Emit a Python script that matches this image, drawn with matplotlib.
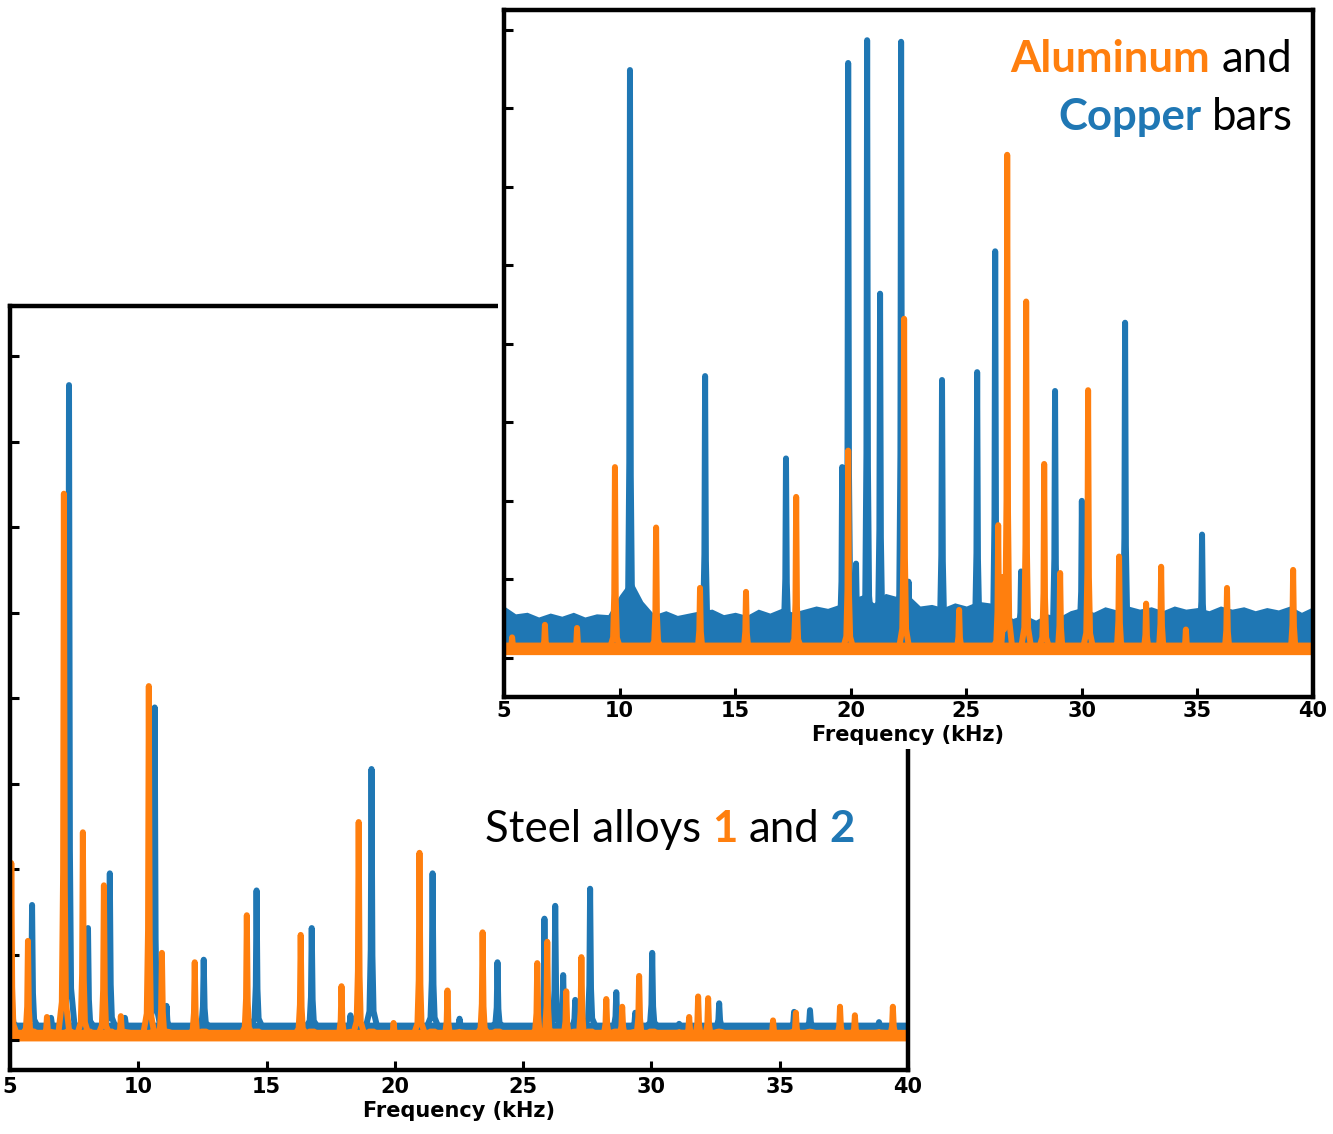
import matplotlib
matplotlib.use("Agg")
import matplotlib.pyplot as plt
from matplotlib.patches import Rectangle
import numpy as np

########################################################################################################################
## peak lists (frequency in kHz, amplitude in arbitrary units)
########################################################################################################################
# steel alloy 2 (blue, lower-left panel)
steel2_freq = [5.05, 5.86, 6.60, 7.30, 8.04, 8.89, 9.48, 10.64, 11.10, 12.55, 14.61, 16.76, 18.27, 19.09, 21.47,
               22.52, 24.00, 25.83, 26.25, 26.56, 27.03, 27.61, 28.63, 29.37, 30.03, 31.08, 32.64, 35.56, 36.18, 38.87]
steel2_height = [0.94, 1.58, 0.26, 7.66, 1.31, 1.95, 0.26, 3.89, 0.40, 0.94, 1.75, 1.31, 0.29, 3.17, 1.95,
                 0.25, 0.91, 1.42, 1.57, 0.76, 0.47, 1.77, 0.56, 0.32, 1.02, 0.19, 0.43, 0.33, 0.35, 0.21]
# steel alloy 1 (orange, lower-left panel)
steel1_freq = [5.05, 5.70, 6.44, 7.10, 7.84, 8.66, 9.32, 10.41, 10.92, 12.20, 14.23, 16.33, 17.92, 18.59, 19.95,
               20.96, 22.05, 23.42, 25.55, 25.94, 26.68, 27.27, 28.24, 28.86, 29.52, 31.47, 31.82, 32.21, 34.74,
               35.63, 37.35, 37.93, 39.41]
steel1_height = [2.07, 1.16, 0.27, 6.39, 2.43, 1.81, 0.28, 4.14, 1.02, 0.91, 1.46, 1.23, 0.63, 2.55, 0.20,
                 2.19, 0.58, 1.26, 0.90, 1.15, 0.57, 0.97, 0.48, 0.39, 0.75, 0.27, 0.51, 0.49, 0.23,
                 0.32, 0.39, 0.29, 0.39]

# copper bar (blue, upper-right panel)
cu_freq = [10.45, 13.70, 17.20, 19.63, 19.89, 20.23, 20.71, 21.27, 22.18, 22.50, 23.95, 25.47, 26.25, 27.37,
           28.84, 30.00, 31.87, 35.20]
cu_height = [7.49, 3.59, 2.54, 2.43, 7.58, 1.20, 7.87, 4.64, 7.85, 0.97, 3.54, 3.64, 5.18, 1.10,
             3.40, 2.00, 4.27, 1.57]
# aluminum bar (orange, upper-right panel)
al_freq = [5.35, 6.77, 8.16, 9.80, 11.58, 13.48, 15.47, 17.64, 19.89, 22.31, 24.69, 26.38, 26.60, 26.77, 27.59,
           28.37, 29.06, 30.27, 31.61, 32.78, 33.43, 34.50, 36.28, 39.14]
al_height = [0.26, 0.42, 0.38, 2.43, 1.66, 0.89, 0.84, 2.05, 2.64, 4.32, 0.61, 1.69, 1.03, 6.41, 4.54,
             2.47, 1.08, 3.41, 1.29, 0.69, 1.16, 0.36, 0.89, 1.12]

# noise floor of the copper spectrum (upper edge every 0.5 kHz)
cu_noise_freq = np.arange(5.0, 40.01, 0.5)
cu_noise_hi = [0.66, 0.56, 0.58, 0.52, 0.57, 0.53, 0.58, 0.52, 0.56, 0.55, 0.80, 1.00, 0.72, 0.55, 0.60, 0.54,
               0.57, 0.60, 0.62, 0.55, 0.58, 0.54, 0.62, 0.57, 0.63, 0.58, 0.62, 0.66, 0.63, 0.68, 0.75, 0.80,
               0.70, 0.82, 0.78, 0.80, 0.66, 0.68, 0.64, 0.70, 0.66, 0.72, 0.70, 0.66, 0.50, 0.55, 0.48, 0.56,
               0.52, 0.60, 0.64, 0.58, 0.65, 0.61, 0.66, 0.62, 0.65, 0.60, 0.66, 0.62, 0.64, 0.60, 0.66, 0.62,
               0.65, 0.60, 0.64, 0.61, 0.66, 0.58, 0.65]
cu_noise_lo = 0.10
al_noise = (0.04, 0.20)
steel2_noise = (0.10, 0.21)
steel1_noise = (-0.01, 0.14)

freq_ticks = [5, 10, 15, 20, 25, 30, 35, 40]

########################################################################################################################
W, H = 1333, 1134
fig = plt.figure(figsize=(W / 100, H / 100), dpi=100, facecolor='w')

c_blue = '#1f77b4'
c_orange = '#ff7f0e'
LW = 4.3


def px_rect(x0, y0, x1, y1):
    # pixel box (y from top) -> figure fraction [left, bottom, width, height]
    return [x0 / W, 1 - y1 / H, (x1 - x0) / W, (y1 - y0) / H]


def spectrum(freqs, heights, base):
    # each listed peak drawn as a sharp spike with a small skirt on a flat line
    x = np.linspace(5, 40, 7001)
    y = np.full_like(x, base)
    for c, h in zip(freqs, heights):
        d = h - base
        px = [c - 0.22, c - 0.08, c - 0.03, c, c + 0.03, c + 0.08, c + 0.22]
        py = [base, base + 0.06 * d, base + 0.30 * d, h, base + 0.30 * d, base + 0.06 * d, base]
        y = np.maximum(y, np.interp(x, px, py, left=base, right=base))
    return x, y


def style_axes(ax, ylim):
    ax.set_xlim(5, 40)
    ax.set_ylim(*ylim)
    ax.set_xticks(freq_ticks)
    ax.set_xticklabels([str(t) for t in freq_ticks], fontweight='bold', fontsize=15)
    ax.set_yticks(np.arange(0, 9))
    ax.set_yticklabels([])
    ax.tick_params(direction='in', length=6.5, width=2.2, pad=3)
    for s in ax.spines.values():
        s.set_linewidth(3.2)
    ax.set_xlabel('Frequency (kHz)', fontweight='bold', fontsize=15, labelpad=3)


## lower-left panel: steel alloys
ax1 = fig.add_axes(px_rect(10, 306, 908, 1070))
ax1.set_zorder(1)
x, y = spectrum(steel2_freq, steel2_height, 0.155)
ax1.fill_between(x, steel2_noise[0], steel2_noise[1], color=c_blue, lw=0)
ax1.plot(x, y, color=c_blue, lw=LW)
x, y = spectrum(steel1_freq, steel1_height, 0.065)
ax1.fill_between(x, steel1_noise[0], steel1_noise[1], color=c_orange, lw=0)
ax1.plot(x, y, color=c_orange, lw=LW)
style_axes(ax1, (-0.35, 8.585))
ax1.tick_params(axis='x', pad=5)

# white sheet behind the upper-right panel
sheet = Rectangle((498 / W, 1 - 749 / H), 1 - 498 / W, 749 / H, transform=fig.transFigure,
                  facecolor='w', edgecolor='none', zorder=2)
fig.add_artist(sheet)

## upper-right panel: aluminum and copper bars
ax2 = fig.add_axes(px_rect(504, 10, 1313, 697))
ax2.set_zorder(3)
xn = np.linspace(5, 40, 7001)
hi = np.interp(xn, cu_noise_freq, cu_noise_hi)
ax2.fill_between(xn, cu_noise_lo, hi, color=c_blue, lw=0)
x, y = spectrum(cu_freq, cu_height, 0.35)
ax2.plot(x, y, color=c_blue, lw=LW)
x, y = spectrum(al_freq, al_height, 0.12)
ax2.fill_between(x, al_noise[0], al_noise[1], color=c_orange, lw=0)
ax2.plot(x, y, color=c_orange, lw=LW)
style_axes(ax2, (-0.5, 8.255))

########################################################################################################################
## multi-coloured captions
########################################################################################################################
FS = 31.5
renderer = fig.canvas.get_renderer()


def caption(parts, x_px, y_px, ha):
    arts = []
    for s, col, wt in parts:
        t = fig.text(0, 1 - y_px / H, s, color=col, fontweight=wt, fontsize=FS, family=['Lato', 'DejaVu Sans'],
                     va='baseline', ha='left', zorder=10)
        arts.append(t)
    widths = [t.get_window_extent(renderer).width for t in arts]
    gap = 0.25 * FS * 100 / 72
    total = sum(widths) + gap * (len(arts) - 1)
    if ha == 'right':
        start = x_px - total
    elif ha == 'center':
        start = x_px - total / 2
    else:
        start = x_px
    for t, w in zip(arts, widths):
        t.set_x(start / W)
        start += w + gap


caption([('Aluminum', c_orange, 'bold'), ('and', 'black', 'normal')], 1292, 72, 'right')
caption([('Copper', c_blue, 'bold'), ('bars', 'black', 'normal')], 1293, 130, 'right')
caption([('Steel alloys', 'black', 'normal'), ('1', c_orange, 'bold'), ('and', 'black', 'normal'),
         ('2', c_blue, 'bold')], 670, 842, 'center')

plt.savefig('out.png', dpi=100, facecolor='w')
